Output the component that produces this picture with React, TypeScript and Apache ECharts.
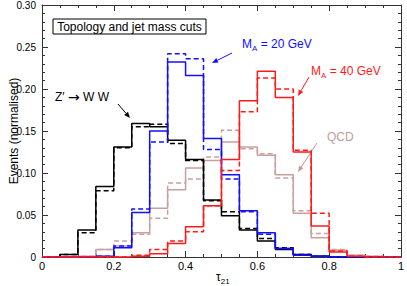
import React, { useEffect, useRef } from "react";
import * as echarts from "echarts";

const binEdges = [0, 0.05, 0.1, 0.15, 0.2, 0.25, 0.3, 0.35, 0.4, 0.45, 0.5, 0.55, 0.6, 0.65, 0.7, 0.75, 0.8, 0.85, 0.9, 0.95, 1.0];

const zwwSolid = [0, 0.003, 0.032, 0.084, 0.131, 0.159, 0.155, 0.139, 0.116, 0.068, 0.049, 0.032, 0.019, 0.009, 0.003, 0.001, 0, 0, 0, 0];
const zwwDashed = [0, 0.003, 0.029, 0.079, 0.130, 0.155, 0.158, 0.135, 0.115, 0.067, 0.054, 0.034, 0.022, 0.011, 0.003, 0.001, 0, 0, 0, 0];
const ma20Solid = [0, 0, 0, 0.001, 0.011, 0.053, 0.150, 0.232, 0.216, 0.141, 0.098, 0.055, 0.029, 0.010, 0.002, 0.001, 0, 0, 0, 0];
const ma20Dashed = [0, 0, 0, 0.001, 0.013, 0.057, 0.137, 0.242, 0.236, 0.128, 0.093, 0.054, 0.027, 0.010, 0.002, 0.001, 0, 0, 0, 0];
const ma40Solid = [0, 0, 0, 0, 0, 0.001, 0.004, 0.016, 0.036, 0.061, 0.116, 0.186, 0.221, 0.190, 0.125, 0.037, 0.006, 0.001, 0, 0];
const ma40Dashed = [0, 0, 0, 0, 0, 0.002, 0.009, 0.019, 0.030, 0.061, 0.103, 0.173, 0.213, 0.200, 0.127, 0.052, 0.007, 0.001, 0, 0];
const qcdSolid = [0, 0, 0.001, 0.009, 0.013, 0.029, 0.058, 0.080, 0.106, 0.115, 0.137, 0.131, 0.121, 0.098, 0.052, 0.023, 0.008, 0.002, 0.001, 0];
const qcdDashed = [0, 0, 0.001, 0.009, 0.019, 0.027, 0.046, 0.088, 0.093, 0.119, 0.151, 0.129, 0.123, 0.094, 0.055, 0.028, 0.009, 0.002, 0.001, 0];

const xTicks = [0, 0.2, 0.4, 0.6, 0.8, 1];
const yTicks = [0, 0.05, 0.1, 0.15, 0.2, 0.25, 0.3];

const FONT = "Liberation Sans, Arial, sans-serif";
const BLUE = "#1010ff";
const RED = "#ff1a1a";
const ROSE = "#c9a0a0";

function steps(vals: number[]) {
  const pts = vals.map((v, i) => [binEdges[i], v]);
  pts.push([binEdges[binEdges.length - 1], vals[vals.length - 1]]);
  return pts;
}

function hist(name: string, vals: number[], color: string, dashed: boolean) {
  return {
    name,
    type: "line",
    step: "end",
    symbol: "none",
    data: steps(vals),
    lineStyle: { color, width: 1.5, type: dashed ? [5, 3] : "solid" },
    z: 2,
  };
}

function arrow(x1: number, y1: number, x2: number, y2: number, color: string) {
  const dx = x2 - x1, dy = y2 - y1;
  const L = Math.hypot(dx, dy);
  const ux = dx / L, uy = dy / L;
  const bx = x2 - 6 * ux, by = y2 - 6 * uy;
  const px = -uy, py = ux;
  return [
    { type: "line", shape: { x1, y1, x2: bx, y2: by }, style: { stroke: color, lineWidth: 1 } },
    {
      type: "polygon",
      shape: { points: [[x2, y2], [bx + 2.5 * px, by + 2.5 * py], [bx - 2.5 * px, by - 2.5 * py]] },
      style: { fill: color },
    },
  ];
}

export default function App() {
  const ref = useRef<HTMLDivElement>(null);
  useEffect(() => {
    if (!ref.current) return;
    const chart = echarts.init(ref.current, undefined, { renderer: "svg" });
    const axisCommon = {
      type: "value",
      axisLine: { show: true, onZero: false, lineStyle: { color: "#333", width: 1 } },
      axisTick: { show: true, inside: true, length: 6, lineStyle: { color: "#333" } },
      minorTick: { show: true, length: 3, lineStyle: { color: "#333" } },
      splitLine: { show: false },
      minorSplitLine: { show: false },
    };
    chart.setOption({
      animation: false,
      backgroundColor: "#fff",
      grid: { left: 42, right: 4, top: 5, bottom: 29, containLabel: false },
      xAxis: [
        {
          ...axisCommon,
          position: "bottom",
          min: xTicks[0],
          max: xTicks[xTicks.length - 1],
          interval: 0.2,
          minorTick: { ...axisCommon.minorTick, splitNumber: 4 },
          axisLabel: {
            margin: 3,
            fontFamily: FONT,
            fontSize: 11,
            color: "#000",
            formatter: (v: number) => (v === 0 ? "0" : v === 1 ? "1" : v.toFixed(1)),
          },
        },
        {
          ...axisCommon,
          position: "top",
          min: 0,
          max: 1,
          interval: 0.2,
          minorTick: { ...axisCommon.minorTick, splitNumber: 4 },
          axisLabel: { show: false },
        },
      ],
      yAxis: [
        {
          ...axisCommon,
          position: "left",
          min: yTicks[0],
          max: yTicks[yTicks.length - 1],
          interval: 0.05,
          minorTick: { ...axisCommon.minorTick, splitNumber: 5 },
          axisLabel: {
            margin: 6,
            fontFamily: FONT,
            fontSize: 10,
            color: "#000",
            formatter: (v: number) => (v === 0 ? "0" : v.toFixed(2)),
          },
        },
        {
          ...axisCommon,
          position: "right",
          min: 0,
          max: 0.3,
          interval: 0.05,
          minorTick: { ...axisCommon.minorTick, splitNumber: 5 },
          axisLabel: { show: false },
        },
      ],
      series: [
        hist("QCD dashed", qcdDashed, ROSE, true),
        hist("QCD", qcdSolid, ROSE, false),
        hist("Z' dashed", zwwDashed, "#000", true),
        hist("Z'", zwwSolid, "#000", false),
        hist("MA20 dashed", ma20Dashed, BLUE, true),
        hist("MA20", ma20Solid, BLUE, false),
        hist("MA40 dashed", ma40Dashed, RED, true),
        hist("MA40", ma40Solid, RED, false),
      ],
      graphic: [
        {
          type: "rect",
          shape: { x: 53, y: 19, width: 153, height: 15 },
          style: { fill: "#fff", stroke: "#000", lineWidth: 1 },
          z: 10,
        },
        {
          type: "text",
          z: 11,
          style: { text: "Topology and jet mass cuts", x: 129.5, y: 26.5, align: "center", verticalAlign: "middle", font: `12px ${FONT}`, fill: "#000" },
        },
        {
          type: "text",
          z: 11,
          style: {
            text: "{m|Z′ }{a|→}{m| W W}",
            x: 55,
            y: 97,
            align: "left",
            verticalAlign: "middle",
            fill: "#000",
            rich: {
              m: { fontFamily: FONT, fontSize: 12, lineHeight: 16, fill: "#000" },
              a: { fontFamily: "DejaVu Sans, sans-serif", fontSize: 14, lineHeight: 16, fill: "#000" },
            },
          },
        },
        {
          type: "text",
          z: 11,
          style: {
            text: "{m|M}{s|A}{m| = 20 GeV}",
            x: 242,
            y: 44,
            align: "left",
            verticalAlign: "middle",
            fill: BLUE,
            rich: {
              m: { fontFamily: FONT, fontSize: 12, lineHeight: 16, fill: BLUE },
              s: { fontFamily: FONT, fontSize: 8, lineHeight: 8, verticalAlign: "bottom", fill: BLUE },
            },
          },
        },
        {
          type: "text",
          z: 11,
          style: {
            text: "{m|M}{s|A}{m| = 40 GeV}",
            x: 311,
            y: 71,
            align: "left",
            verticalAlign: "middle",
            fill: RED,
            rich: {
              m: { fontFamily: FONT, fontSize: 12, lineHeight: 16, fill: RED },
              s: { fontFamily: FONT, fontSize: 8, lineHeight: 8, verticalAlign: "bottom", fill: RED },
            },
          },
        },
        {
          type: "text",
          z: 11,
          style: { text: "QCD", x: 327, y: 137, align: "left", verticalAlign: "middle", font: `12px ${FONT}`, fill: "#c49a9a" },
        },
        {
          type: "text",
          z: 11,
          x: 14,
          y: 131,
          rotation: Math.PI / 2,
          style: { text: "Events (normalised)", x: 0, y: 0, align: "center", verticalAlign: "middle", font: `12px ${FONT}`, fill: "#000" },
        },
        {
          type: "text",
          z: 11,
          style: {
            text: "{t|τ}{s|21}",
            x: 216,
            y: 277,
            align: "left",
            verticalAlign: "middle",
            fill: "#000",
            rich: {
              t: { fontFamily: FONT, fontSize: 12, lineHeight: 16, fill: "#000" },
              s: { fontFamily: FONT, fontSize: 8, lineHeight: 8, verticalAlign: "bottom", fill: "#000" },
            },
          },
        },
        ...arrow(118, 104, 130, 118, "#000"),
        ...arrow(232, 53, 212, 63, BLUE),
        ...arrow(309, 77, 298, 96, RED),
        ...arrow(317, 143, 298, 172, "#c49a9a"),
      ],
    });
    return () => chart.dispose();
  }, []);
  return <div ref={ref} style={{ position: "fixed", left: 0, top: 0, width: 407, height: 286 }} />;
}
